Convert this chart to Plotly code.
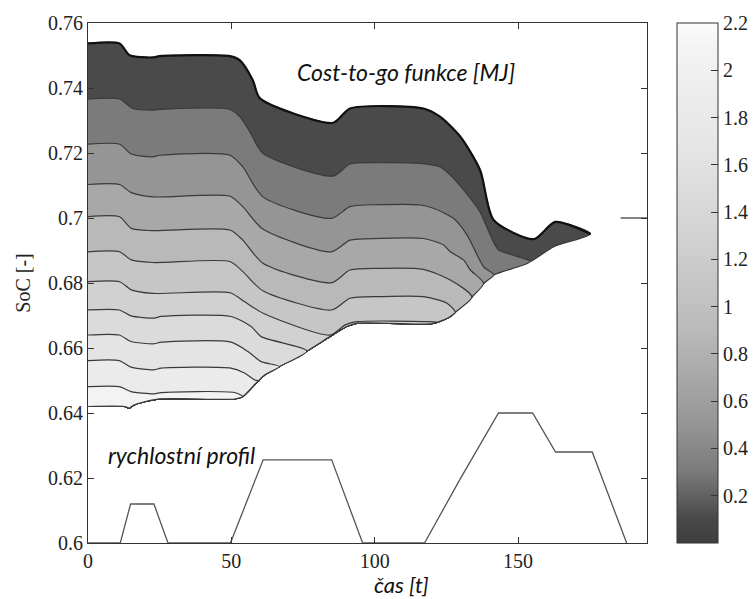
import plotly.graph_objects as go

# ---------------- data ----------------
# cost-to-go contour levels [MJ]
levels = [0.0, 0.2, 0.4, 0.6, 0.8, 1.0, 1.2, 1.4, 1.6, 1.8, 2.0]

# upper boundary of the feasible region (level 0)
t_L00 = [0, 11, 14.5, 22.5, 25, 49.5, 53, 57.5, 60, 85.5, 91.4, 117, 122.9, 129.9, 136.8, 141.5, 155.5, 163, 175.3]
soc_L00 = [0.7537, 0.7537, 0.7501, 0.7494, 0.7498, 0.7498, 0.7485, 0.7424, 0.7368, 0.7293, 0.7337, 0.7337, 0.7311,
           0.7250, 0.7147, 0.6994, 0.6935, 0.6988, 0.6951]

t_L02 = [0, 11, 15.6, 22.5, 25, 49.5, 53, 56.5, 61, 85.5, 91.4, 101.9, 115.9, 122.9, 127.4, 131.6, 136.8, 140.3, 143.2, 154.3]
soc_L02 = [0.7366, 0.7366, 0.7337, 0.7332, 0.7334, 0.7334, 0.7311, 0.7265, 0.7199, 0.7129, 0.7166, 0.7170, 0.7168,
           0.7157, 0.7123, 0.7080, 0.7018, 0.6948, 0.6902, 0.6866]

t_L04 = [0, 11, 15.1, 22.5, 25, 49.5, 54, 61, 85, 91.4, 101.9, 115.9, 120.5, 127.5, 132.2, 138, 141.5]
soc_L04 = [0.7227, 0.7227, 0.7197, 0.7188, 0.7193, 0.7193, 0.7157, 0.7065, 0.6999, 0.7035, 0.7041, 0.7040, 0.7030,
           0.6999, 0.6948, 0.6850, 0.6825]

t_L06 = [0, 11, 15.1, 22.5, 49.5, 54, 61, 85, 91.4, 101.9, 117, 124, 126.4, 131, 133.4, 138]
soc_L06 = [0.7103, 0.7103, 0.7078, 0.7065, 0.7067, 0.7035, 0.6966, 0.6896, 0.6932, 0.6937, 0.6937, 0.6917, 0.6896,
           0.6871, 0.6840, 0.6799]

t_L08 = [0, 11, 15.1, 22.5, 49.5, 54, 61, 85, 91.4, 101.9, 117, 126.4, 133.9]
soc_L08 = [0.7004, 0.7004, 0.6968, 0.6961, 0.6963, 0.6932, 0.6861, 0.6801, 0.6840, 0.6845, 0.6842, 0.6809, 0.6757]

t_L10 = [0, 11, 15.1, 22.5, 49.5, 54, 61, 85, 91.4, 101.9, 117, 125.2, 128.1]
soc_L10 = [0.6896, 0.6896, 0.6871, 0.6863, 0.6866, 0.6835, 0.6776, 0.6717, 0.6753, 0.6758, 0.6758, 0.6738, 0.6710]

t_L12 = [0, 11, 15.1, 22.5, 49.5, 54.7, 61.1, 84.4, 89.7, 93.8, 119.4, 121.8]
soc_L12 = [0.6804, 0.6804, 0.6779, 0.6768, 0.6770, 0.6742, 0.6707, 0.6640, 0.6671, 0.6681, 0.6681, 0.6679]

t_L14 = [0, 10.9, 15.0, 23.1, 25.5, 49.9, 56.9, 60.4, 76.4]
soc_L14 = [0.6717, 0.6717, 0.6699, 0.6692, 0.6697, 0.6697, 0.6666, 0.6635, 0.6591]

t_L16 = [0, 10.9, 15.0, 23.1, 25.5, 49.9, 55.8, 60.4, 66.8]
soc_L16 = [0.6640, 0.6640, 0.6620, 0.6613, 0.6618, 0.6618, 0.6589, 0.6558, 0.6543]

t_L18 = [0, 10.9, 15.0, 23.1, 25.5, 49.9, 54.6, 58.1, 59.8]
soc_L18 = [0.6561, 0.6561, 0.6541, 0.6533, 0.6538, 0.6538, 0.6523, 0.6502, 0.6499]

t_L20 = [0, 10.9, 15.0, 23.1, 25.5, 51.1, 54.0]
soc_L20 = [0.6481, 0.6481, 0.6466, 0.6459, 0.6463, 0.6463, 0.6451]

# lower boundary of the feasible region
t_low = [0, 12.7, 14.4, 16.1, 24.3, 51.1, 54.0, 59.2, 61.6, 66.8, 76.4, 84.4, 90.2, 93.7, 119.4, 121.8, 126.4,
         128.1, 133.9, 138.0, 141.5, 154.3, 162.5, 175.3]
soc_low = [0.6420, 0.6420, 0.6415, 0.6425, 0.6443, 0.6443, 0.6451, 0.6497, 0.6517, 0.6543, 0.6591, 0.6635, 0.6666,
           0.6676, 0.6674, 0.6679, 0.6697, 0.6710, 0.6757, 0.6799, 0.6825, 0.6866, 0.6912, 0.6951]

# speed profile drawn in SoC coordinates
t_speed = [0, 11.25, 14.85, 23.0, 27.9, 49.7, 61.1, 85.0, 95.8, 117.4, 129.9, 143.2, 155.1, 163.1, 175.9, 187.9]
soc_speed = [0.600, 0.600, 0.612, 0.612, 0.600, 0.600, 0.6256, 0.6256, 0.600, 0.600, 0.6198, 0.640, 0.640,
             0.628, 0.628, 0.600]

# short reference mark at SoC 0.7
t_ref = [185.8, 195]
soc_ref = [0.7, 0.7]

x_ticks = [0, 50, 100, 150]
x_ticktext = ["0", "50", "100", "150"]
y_ticks = [0.6, 0.62, 0.64, 0.66, 0.68, 0.7, 0.72, 0.74, 0.76]
y_ticktext = ["0.6", "0.62", "0.64", "0.66", "0.68", "0.7", "0.72", "0.74", "0.76"]
cb_ticks = [0.2, 0.4, 0.6, 0.8, 1.0, 1.2, 1.4, 1.6, 1.8, 2.0, 2.2]
cb_ticktext = ["0.2", "0.4", "0.6", "0.8", "1", "1.2", "1.4", "1.6", "1.8", "2", "2.2"]
cb_range = [0.0, 2.2]

# ---------------- styles ----------------
band_colors = ['#4a4a4a', '#7b7b7b', '#959595', '#a8a8a8', '#b9b9b9', '#c6c6c6',
               '#d1d1d1', '#dbdbdb', '#e4e4e4', '#ebebeb', '#f3f3f3']
gray_scale = [[0.0, '#3e3e3e'], [0.045, '#484848'], [0.136, '#7a7a7a'], [0.227, '#959595'],
              [0.318, '#a8a8a8'], [0.409, '#bababa'], [0.5, '#c6c6c6'], [0.591, '#d2d2d2'],
              [0.682, '#dcdcdc'], [0.773, '#e6e6e6'], [0.864, '#ececec'], [0.955, '#f4f4f4'],
              [1.0, '#fbfbfb']]
SERIF = "Liberation Serif, DejaVu Serif, serif"
SANS = "Lato"
INK = "#222222"

level_t = [t_L00, t_L02, t_L04, t_L06, t_L08, t_L10, t_L12, t_L14, t_L16, t_L18, t_L20]
level_soc = [soc_L00, soc_L02, soc_L04, soc_L06, soc_L08, soc_L10, soc_L12, soc_L14, soc_L16, soc_L18, soc_L20]

fig = go.Figure()

# filled regions: area between each level curve and the lower boundary, lighter ones on top
for k, lev in enumerate(levels):
    lt, ls = level_t[k], level_soc[k]
    t_end = lt[-1]
    back = [(t, s) for t, s in zip(t_low, soc_low) if t < t_end][::-1]
    xs = list(lt) + [p[0] for p in back]
    ys = list(ls) + [p[1] for p in back]
    fig.add_trace(go.Scatter(
        x=xs, y=ys, mode="lines", fill="toself", fillcolor=band_colors[k],
        line=dict(color="#3a3a3a", width=1.2, shape="spline", smoothing=0.7),
        hoverinfo="skip", showlegend=False))

# bold outer (upper) boundary
fig.add_trace(go.Scatter(x=t_L00, y=soc_L00, mode="lines",
                         line=dict(color="#111111", width=2.2, shape="spline", smoothing=0.7),
                         hoverinfo="skip", showlegend=False))

# speed profile
fig.add_trace(go.Scatter(x=t_speed, y=soc_speed, mode="lines",
                         line=dict(color="#555555", width=1.3), hoverinfo="skip", showlegend=False))

# reference mark
fig.add_trace(go.Scatter(x=t_ref, y=soc_ref, mode="lines",
                         line=dict(color="#333333", width=1.2), hoverinfo="skip", showlegend=False))

# colorbar carrier
fig.add_trace(go.Scatter(
    x=[t_L00[0], t_L00[0]], y=[soc_L00[0], soc_L00[0]], mode="markers",
    marker=dict(size=0, opacity=0, color=cb_range, cmin=cb_range[0], cmax=cb_range[1],
                colorscale=gray_scale, showscale=True,
                colorbar=dict(x=1.054, xanchor="left", xref="paper", y=0.5, yanchor="middle",
                              len=1.0, lenmode="fraction", thickness=41, xpad=0, ypad=0,
                              outlinewidth=1, outlinecolor="#333333",
                              tickmode="array", tickvals=cb_ticks, ticktext=cb_ticktext,
                              ticks="inside", ticklen=7, tickcolor="#333333",
                              tickfont=dict(family=SERIF, size=20, color=INK))),
    hoverinfo="skip", showlegend=False))

fig.add_annotation(x=111, y=0.7448, xref="x", yref="y", text="<i>Cost-to-go funkce [MJ]</i>",
                   showarrow=False, font=dict(family=SANS, size=23, color="#111111"))
fig.add_annotation(x=32.7, y=0.6271, xref="x", yref="y", text="<i>rychlostní profil</i>",
                   showarrow=False, font=dict(family=SANS, size=23, color="#111111"))
fig.add_annotation(x=0.56, y=-0.079, xref="paper", yref="paper", text="<i>čas [t]</i>",
                   showarrow=False, yanchor="middle", font=dict(family=SANS, size=22, color="#111111"))

fig.update_layout(
    width=753, height=599,
    margin=dict(l=88, r=106, t=23, b=56, autoexpand=False),
    paper_bgcolor="white", plot_bgcolor="white",
    xaxis=dict(range=[0, 195], tickmode="array", tickvals=x_ticks, ticktext=x_ticktext,
               ticks="inside", ticklen=6, tickcolor="#333333", mirror="allticks",
               showline=True, linecolor="#333333", linewidth=1, showgrid=False, zeroline=False,
               tickfont=dict(family=SERIF, size=20, color=INK)),
    yaxis=dict(range=[0.6, 0.76], tickmode="array", tickvals=y_ticks, ticktext=y_ticktext,
               ticks="inside", ticklen=6, tickcolor="#333333", mirror="allticks",
               showline=True, linecolor="#333333", linewidth=1, showgrid=False, zeroline=False,
               tickfont=dict(family=SERIF, size=20, color=INK),
               title=dict(text="SoC [-]", font=dict(family=SERIF, size=20, color=INK), standoff=12)),
)

fig.write_html("out.html")
